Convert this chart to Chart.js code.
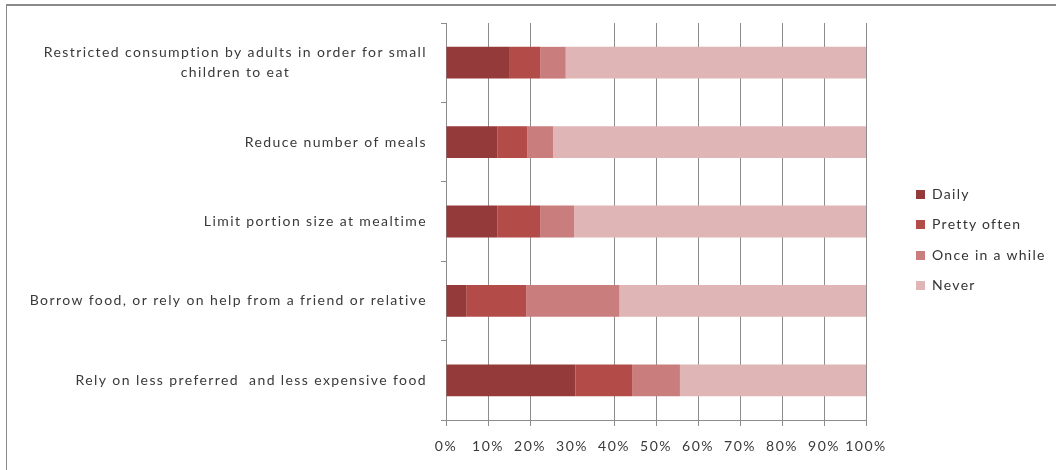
<!DOCTYPE html>
<html>
<head>
<meta charset="utf-8">
<script src="https://cdn.jsdelivr.net/npm/chart.js@4"></script>
<style>
  body { margin: 0; background: #fff; font-family: Lato, sans-serif; }
  #wrap { position: relative; width: 1056px; height: 470px; overflow: hidden; }
  #frame { position: absolute; left: 6px; top: 4px; width: 1100px; height: 500px;
           border-top: 2px solid #8a8a8a; border-left: 1px solid #8a8a8a; }
  #legend { position: absolute; left: 916px; top: 185px; font-size: 14px; color: #333; letter-spacing: 1.3px; }
  #legend div { height: 30.4px; line-height: 18px; white-space: nowrap; }
  #legend span { display: inline-block; width: 9px; height: 9px; margin-right: 7px; }
</style>
</head>
<body>
<div id="wrap">
  <div id="frame"></div>
  <canvas id="chart" width="1056" height="470"></canvas>
  <div id="legend"></div>
</div>
<script>
const categories = [
  ['Restricted consumption by adults in order for small', 'children to eat'],
  'Reduce number of meals',
  'Limit portion size at mealtime',
  'Borrow food, or rely on help from a friend or relative',
  'Rely on less preferred  and less expensive food'
];
const seriesNames = ['Daily', 'Pretty often', 'Once in a while', 'Never'];
const daily = [15.2, 12.2, 12.2, 4.8, 30.8];
const prettyOften = [7.3, 7.2, 10.3, 14.3, 13.5];
const onceInAWhile = [6.0, 6.1, 8.0, 22.2, 11.4];
const never = [71.5, 74.5, 69.5, 58.7, 44.3];
const xTicks = [0, 10, 20, 30, 40, 50, 60, 70, 80, 90, 100];
const colors = ['#953a3a', '#b34c48', '#c97d7c', '#dfb5b5'];

const values = [daily, prettyOften, onceInAWhile, never];

// legend drawn as html next to the canvas
document.getElementById('legend').innerHTML = seriesNames.map((n, i) =>
  `<div><span style="background:${colors[i]}"></span>${n}</div>`).join('');

// the source text is spaced out a bit
const spacing = {
  id: 'spacing',
  beforeDraw(chart) { chart.ctx.letterSpacing = '1.5px'; }
};

const yLabels = {
  id: 'yLabels',
  afterDraw(chart) {
    const scale = chart.scales.y;
    const ctx = chart.ctx;
    ctx.save();
    ctx.letterSpacing = '1.4px';
    ctx.font = '14px Lato';
    ctx.fillStyle = '#3a3a3a';
    ctx.textAlign = 'center';
    ctx.textBaseline = 'middle';
    const right = scale.right - 19;
    categories.forEach((lab, i) => {
      const lines = Array.isArray(lab) ? lab : [lab];
      const w = Math.max(...lines.map(l => ctx.measureText(l).width));
      const y0 = scale.getPixelForValue(i) - (lines.length - 1) * 10;
      lines.forEach((l, j) => ctx.fillText(l, right - w / 2, y0 + j * 20));
    });
    ctx.restore();
  }
};

const gridColor = c => (c.tick && c.tick.value === 30) ? 'rgba(0,0,0,0)' : '#8c8c8c';

new Chart(document.getElementById('chart'), {
  type: 'bar',
  data: {
    labels: categories,
    datasets: seriesNames.map((n, i) => ({
      label: n,
      data: values[i],
      backgroundColor: colors[i],
      borderWidth: 0,
      barPercentage: 0.4,
      categoryPercentage: 1
    }))
  },
  options: {
    indexAxis: 'y',
    responsive: false,
    animation: false,
    layout: { padding: { left: 0, top: 23, right: 190, bottom: 0 } },
    plugins: { legend: { display: false }, tooltip: { enabled: false } },
    scales: {
      x: {
        stacked: true,
        min: 0,
        max: 100,
        afterBuildTicks: s => { s.ticks = xTicks.map(v => ({ value: v })); },
        afterFit: s => { s.height = 50; },
        grid: { color: gridColor, tickColor: gridColor, tickLength: 6, lineWidth: 1 },
        border: { color: '#8c8c8c' },
        ticks: {
          callback: v => v + '%',
          font: { family: 'Lato', size: 14 },
          color: '#3a3a3a',
          padding: 12,
          maxRotation: 0,
          autoSkip: false
        }
      },
      y: {
        stacked: true,
        afterFit: s => { s.width = 446; },
        grid: { drawOnChartArea: false, tickLength: 5, tickColor: '#8c8c8c' },
        border: { color: '#8c8c8c' },
        ticks: { display: false }
      }
    }
  },
  plugins: [spacing, yLabels]
});
</script>
</body>
</html>
